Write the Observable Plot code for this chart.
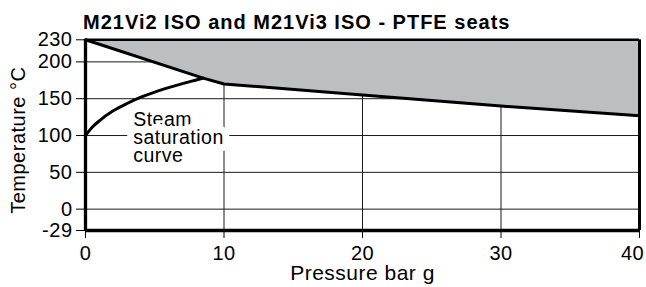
<!DOCTYPE html>
<html>
<head>
<meta charset="utf-8">
<script src="https://cdn.jsdelivr.net/npm/d3@7"></script>
<script src="https://cdn.jsdelivr.net/npm/@observablehq/plot@0.6"></script>
<style>
  body { margin: 0; background: #fff; }
  #title {
    font-family: "Liberation Sans", Arial, Helvetica, sans-serif;
    font-weight: bold;
    font-size: 20px;
    letter-spacing: 1.0px;
    line-height: 20px;
    height: 24px;
    padding: 12px 0 0 83px;
    box-sizing: border-box;
    white-space: nowrap;
    color: #000;
  }
  #chart svg { display: block; letter-spacing: 0.5px; }
</style>
</head>
<body>
<div id="title">M21Vi2 ISO and M21Vi3 ISO - PTFE seats</div>
<div id="chart"></div>
<script>
// ---- data ----
const xDomain = [0, 40];
const yDomain = [-29, 230];
const xTicks = [0, 10, 20, 30, 40];
const xEdgeTick = [40];
const yTicks = [-29, 0, 50, 100, 150, 200, 230];
const gridX = [10, 20, 30];
const gridY = [0, 50, 100, 150, 200];

// upper limit of the operating range (PTFE seats)
const limitPressure = [0, 8.5, 10, 20, 30, 40];
const limitTemp = [230, 178, 170, 155, 140, 127];

// steam saturation curve
const steamPressure = [0, 0.5, 1, 2, 3, 4, 5, 6, 7, 8, 8.5];
const steamTemp = [100, 111.5, 120, 133.5, 143.5, 152, 159, 165, 170.5, 175.5, 178];

const curveLabel = ["Steam\nsaturation\ncurve"];
const curveLabelPressure = [3.44];
const curveLabelTemp = [96];

const xLabel = ["Pressure bar g"];
const yLabel = ["Temperature °C"];

// ---- tables ----
const limit = limitPressure.map((p, i) => ({p, t: limitTemp[i]}));
const steam = steamPressure.map((p, i) => ({p, t: steamTemp[i]}));

const font = "Liberation Sans, Arial, Helvetica, sans-serif";

const chart = Plot.plot({
  width: 646,
  height: 263,
  marginLeft: 85,
  marginRight: 7,
  marginTop: 15.3,
  marginBottom: 57,
  style: {fontFamily: font, fontSize: "20px", background: "#fff", color: "#000"},
  x: {domain: xDomain, ticks: xTicks, tickSize: 8, tickPadding: 7, label: null,
      tickFormat: d => (xEdgeTick.includes(d) ? "" : `${d}`)},
  y: {domain: yDomain, ticks: yTicks, tickSize: 9, tickPadding: 4, label: null, tickFormat: d => `${d}`},
  marks: [
    Plot.ruleY(gridY, {stroke: "#1a1a1a", strokeWidth: 1}),
    Plot.ruleX(gridX, {stroke: "#1a1a1a", strokeWidth: 1}),
    Plot.areaY(limit, {x: "p", y1: "t", y2: () => yDomain[1], fill: "#bdbec0"}),
    Plot.text(curveLabel, {
      x: curveLabelPressure, y: curveLabelTemp, text: d => d,
      textAnchor: "start", lineAnchor: "middle", lineHeight: 0.93,
      fontSize: 19.5, fill: "#000", stroke: "#fff", strokeWidth: 14,
      strokeLinejoin: "round", paintOrder: "stroke"
    }),
    Plot.line(limit, {x: "p", y: "t", stroke: "#000", strokeWidth: 3}),
    Plot.line(steam, {x: "p", y: "t", stroke: "#000", strokeWidth: 3, curve: "monotone-x"}),
    Plot.ruleY([yDomain[1]], {stroke: "#000", strokeWidth: 2.5}),
    Plot.ruleY([yDomain[0]], {stroke: "#000", strokeWidth: 3.3}),
    Plot.ruleX([xDomain[0]], {stroke: "#000", strokeWidth: 3.3}),
    Plot.ruleX([xDomain[1]], {stroke: "#000", strokeWidth: 3}),
    Plot.text(xEdgeTick, {x: d => d, text: d => `${d}`, frameAnchor: "bottom", lineAnchor: "top",
      dy: 15, dx: -7, fontSize: 20, fill: "#000"}),
    Plot.text(yLabel, {frameAnchor: "left", rotate: -90, dx: -67, dy: 5, text: d => d, fontSize: 20, textAnchor: "middle", fill: "#000"}),
    Plot.text(xLabel, {frameAnchor: "bottom", dy: 49.5, text: d => d, fontSize: 21, textAnchor: "middle", fill: "#000"})
  ]
});
document.getElementById("chart").appendChild(chart);
</script>
</body>
</html>
